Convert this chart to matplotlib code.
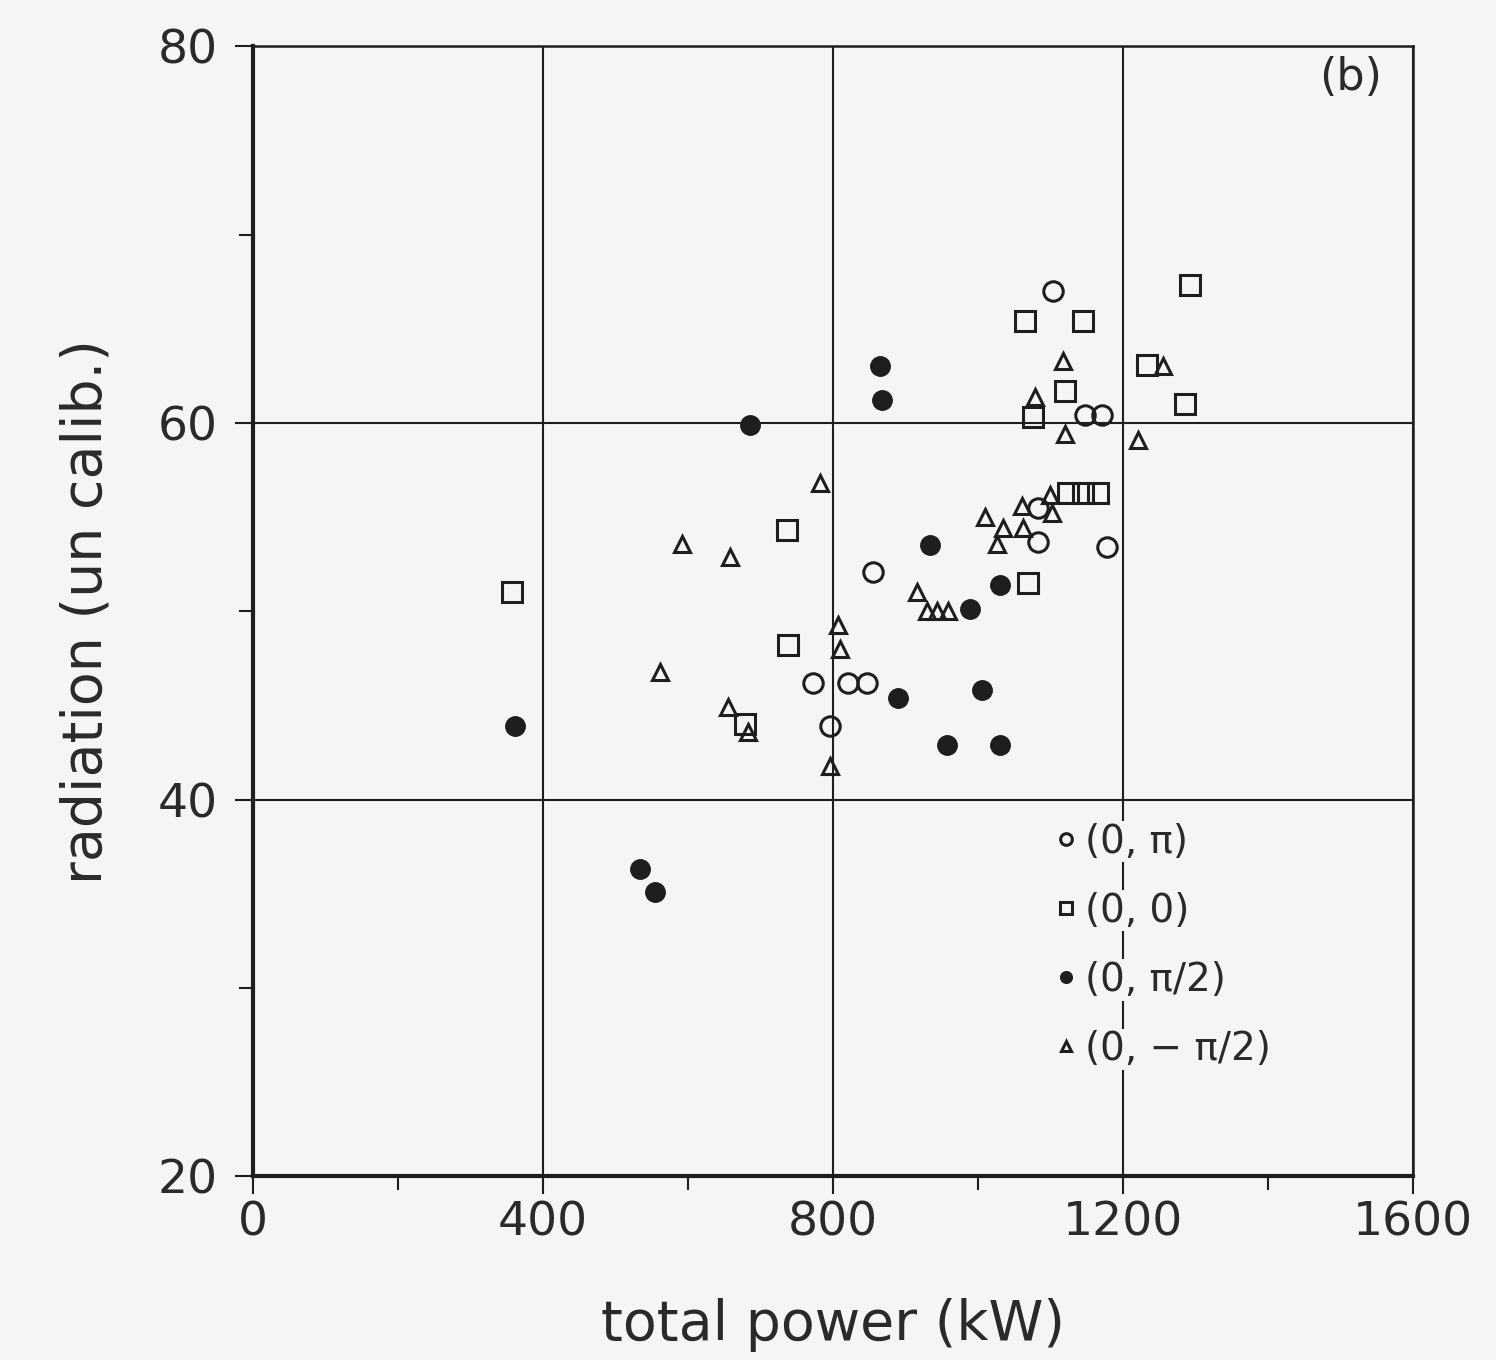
import matplotlib
matplotlib.use('Agg')
import matplotlib.pyplot as plt

# data: total power (kW) vs radiation (uncalibrated)
x_pi = [1103, 1148, 1171, 1083, 1178, 1083, 855, 772, 821, 847, 796]
y_pi = [67.0, 60.4, 60.4, 53.7, 53.4, 55.5, 52.1, 46.2, 46.2, 46.2, 43.9]

x_zero = [1293, 1065, 1145, 1233, 1120, 1286, 1076, 1124, 1145, 1166, 1069, 737, 357, 738, 679]
y_zero = [67.3, 65.4, 65.4, 63.1, 61.7, 61.0, 60.3, 56.3, 56.3, 56.3, 51.5, 54.3, 51.0, 48.2, 44.0]

x_half = [865, 868, 686, 934, 1030, 989, 890, 1006, 957, 1030, 361, 534, 554]
y_half = [63.0, 61.2, 59.9, 53.5, 51.4, 50.1, 45.4, 45.8, 42.9, 42.9, 43.9, 36.3, 35.1]

x_mhalf = [1118, 1255, 1079, 1120, 1221, 782, 592, 658, 1010, 1026, 1034, 1062, 1061,
           1099, 1102, 916, 930, 943, 959, 807, 810, 561, 655, 683, 796]
y_mhalf = [63.3, 63.0, 61.4, 59.4, 59.1, 56.8, 53.6, 52.9, 55.0, 53.6, 54.4, 54.4, 55.6,
           56.2, 55.2, 51.0, 50.0, 50.0, 50.0, 49.3, 48.0, 46.8, 44.9, 43.6, 41.8]

labels = ['(0, π)', '(0, 0)', '(0, π/2)', '(0, − π/2)']

bg = '#f5f5f6'
ink = '#1e1e1e'

fig = plt.figure(figsize=(14.96, 13.6), dpi=100, facecolor=bg)
ax = fig.add_axes([0.169, 0.135, 0.7755, 0.831], facecolor=bg)

ms = 14
ax.plot(x_pi, y_pi, 'o', ms=ms, mfc='none', mec=ink, mew=2.2, label=labels[0])
ax.plot(x_zero, y_zero, 's', ms=ms, mfc='none', mec=ink, mew=2.2, label=labels[1])
ax.plot(x_half, y_half, 'o', ms=ms, mfc=ink, mec=ink, mew=1, label=labels[2])
ax.plot(x_mhalf, y_mhalf, '^', ms=12, mfc='none', mec=ink, mew=2.2, label=labels[3])

ax.set_xlim(0, 1600)
ax.set_ylim(20, 80)
ax.set_xticks([0, 400, 800, 1200, 1600])
ax.set_yticks([20, 40, 60, 80])
ax.set_xticks([200, 600, 1000, 1400], minor=True)
ax.set_yticks([30, 50, 70], minor=True)
ax.grid(True, which='major', color=ink, lw=1.5)
ax.set_axisbelow(True)

ax.tick_params(which='major', direction='out', length=13, width=1.5, colors=ink,
               labelsize=34, labelcolor='#2a2a2a')
ax.tick_params(axis='y', which='major', pad=12)
ax.tick_params(axis='x', which='major', pad=4)
ax.tick_params(which='minor', direction='out', length=10, width=1.5, colors=ink)

for side in ['left', 'bottom']:
    ax.spines[side].set_linewidth(3)
for side in ['top', 'right']:
    ax.spines[side].set_linewidth(1.8)
for s in ax.spines.values():
    s.set_color(ink)

ax.set_xlabel('total power (kW)', fontsize=40, color='#2a2a2a', labelpad=38)
ax.set_ylabel('radiation (un calib.)', fontsize=40, color='#2a2a2a', labelpad=32)

ax.text(0.946, 0.972, '(b)', transform=ax.transAxes, fontsize=32,
        ha='center', va='center', color='#2a2a2a')

leg = ax.legend(loc='upper left', bbox_to_anchor=(0.667, 0.337), frameon=False,
                fontsize=28, handlelength=0.6, handletextpad=0.2, labelspacing=0.8,
                markerscale=0.6, borderpad=0.2)
for t in leg.get_texts():
    t.set_color('#2a2a2a')
    t.set_bbox(dict(facecolor=bg, edgecolor='none', pad=1))

fig.savefig('out.png', dpi=100, facecolor=bg)
